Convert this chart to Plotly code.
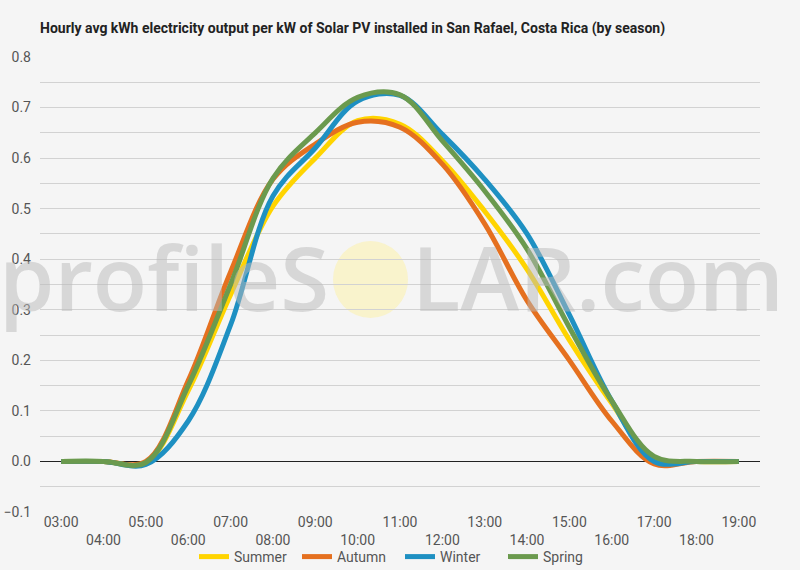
import plotly.graph_objects as go

hours = ["03:00", "04:00", "05:00", "06:00", "07:00", "08:00", "09:00", "10:00",
         "11:00", "12:00", "13:00", "14:00", "15:00", "16:00", "17:00", "18:00", "19:00"]

summer = [0, 0, -0.003, 0.14, 0.33, 0.505, 0.60, 0.674, 0.667, 0.595, 0.495, 0.38, 0.24, 0.115, 0.005, 0, 0]
autumn = [0, 0, 0.0, 0.16, 0.375, 0.558, 0.628, 0.671, 0.661, 0.588, 0.47, 0.318, 0.20, 0.08, -0.005, 0, 0]
winter = [0, 0, -0.006, 0.08, 0.27, 0.525, 0.62, 0.713, 0.724, 0.647, 0.558, 0.45, 0.29, 0.12, 0.0, 0, 0]
spring = [0, 0, -0.002, 0.15, 0.35, 0.56, 0.65, 0.72, 0.725, 0.634, 0.535, 0.42, 0.265, 0.12, 0.01, 0, 0]

series = [("Summer", summer, "#FFD400"),
          ("Autumn", autumn, "#E5701F"),
          ("Winter", winter, "#1E90C2"),
          ("Spring", spring, "#6B9A4E")]

title = "Hourly avg kWh electricity output per kW of Solar PV installed in San Rafael, Costa Rica (by season)"

W, H = 800, 570
L, R, T, B = 40, 40, 57, 58
pw, ph = W - L - R, H - T - B


def px(x):
    return (x - L) / pw


def py(y):
    return (H - B - y) / ph


fig = go.Figure()
for name, vals, col in series:
    fig.add_trace(go.Scatter(x=list(range(len(hours))), y=vals, name=name, mode="lines",
                             line=dict(color=col, width=5, shape="spline", smoothing=1)))

ticktext = [h if i % 2 == 0 else "<br>" + h for i, h in enumerate(hours)]

fig.update_layout(
    width=W, height=H,
    margin=dict(l=L, r=R, t=T, b=B, autoexpand=False),
    paper_bgcolor="#f5f5f5", plot_bgcolor="#f5f5f5",
    font=dict(family="Roboto", size=14, color="#555555"),
    title=dict(text="<b>" + title + "</b>", x=40 / W, xanchor="left", y=1 - 28 / H, yanchor="middle",
               font=dict(family="Roboto", size=14, color="#222222")),
    showlegend=True,
    legend=dict(orientation="h", x=0.5, xanchor="center", yref="container", y=13 / H, yanchor="middle",
                font=dict(size=14, color="#555555"), bgcolor="rgba(0,0,0,0)", itemwidth=30,
                entrywidth=58, tracegroupgap=0),
    xaxis=dict(range=[-0.5, len(hours) - 0.5], tickmode="array", automargin=False,
               tickvals=list(range(len(hours))), ticktext=ticktext,
               showgrid=False, zeroline=False, showline=False, ticks="",
               tickfont=dict(size=14, color="#555555")),
    yaxis=dict(range=[-0.1, 0.8], dtick=0.1, tickformat=".1f", showgrid=True, gridcolor="#d2d2d2",
               gridwidth=1, zeroline=True, zerolinecolor="#222222", zerolinewidth=1, automargin=False,
               showline=False, ticks="", ticklabelstandoff=8, tickfont=dict(size=14, color="#555555"),
               minor=dict(dtick=0.05, showgrid=True, gridcolor="#d2d2d2", gridwidth=1)),
)

# watermark sun
fig.add_shape(type="circle", xref="paper", yref="paper",
              x0=px(333), x1=px(408), y0=py(318), y1=py(241),
              fillcolor="rgba(250,242,190,0.75)", line=dict(width=0), layer="below")

wm_font = dict(family="Open Sans", size=89, color="rgba(185,185,185,0.5)", weight=600)
fig.add_annotation(text="profileS", xref="paper", yref="paper", x=px(331), y=py(276),
                   xanchor="right", yanchor="middle", showarrow=False, font=wm_font)
fig.add_annotation(text="LAR.com", xref="paper", yref="paper", x=px(410), y=py(276),
                   xanchor="left", yanchor="middle", showarrow=False, font=wm_font)

fig.write_html("out.html")
